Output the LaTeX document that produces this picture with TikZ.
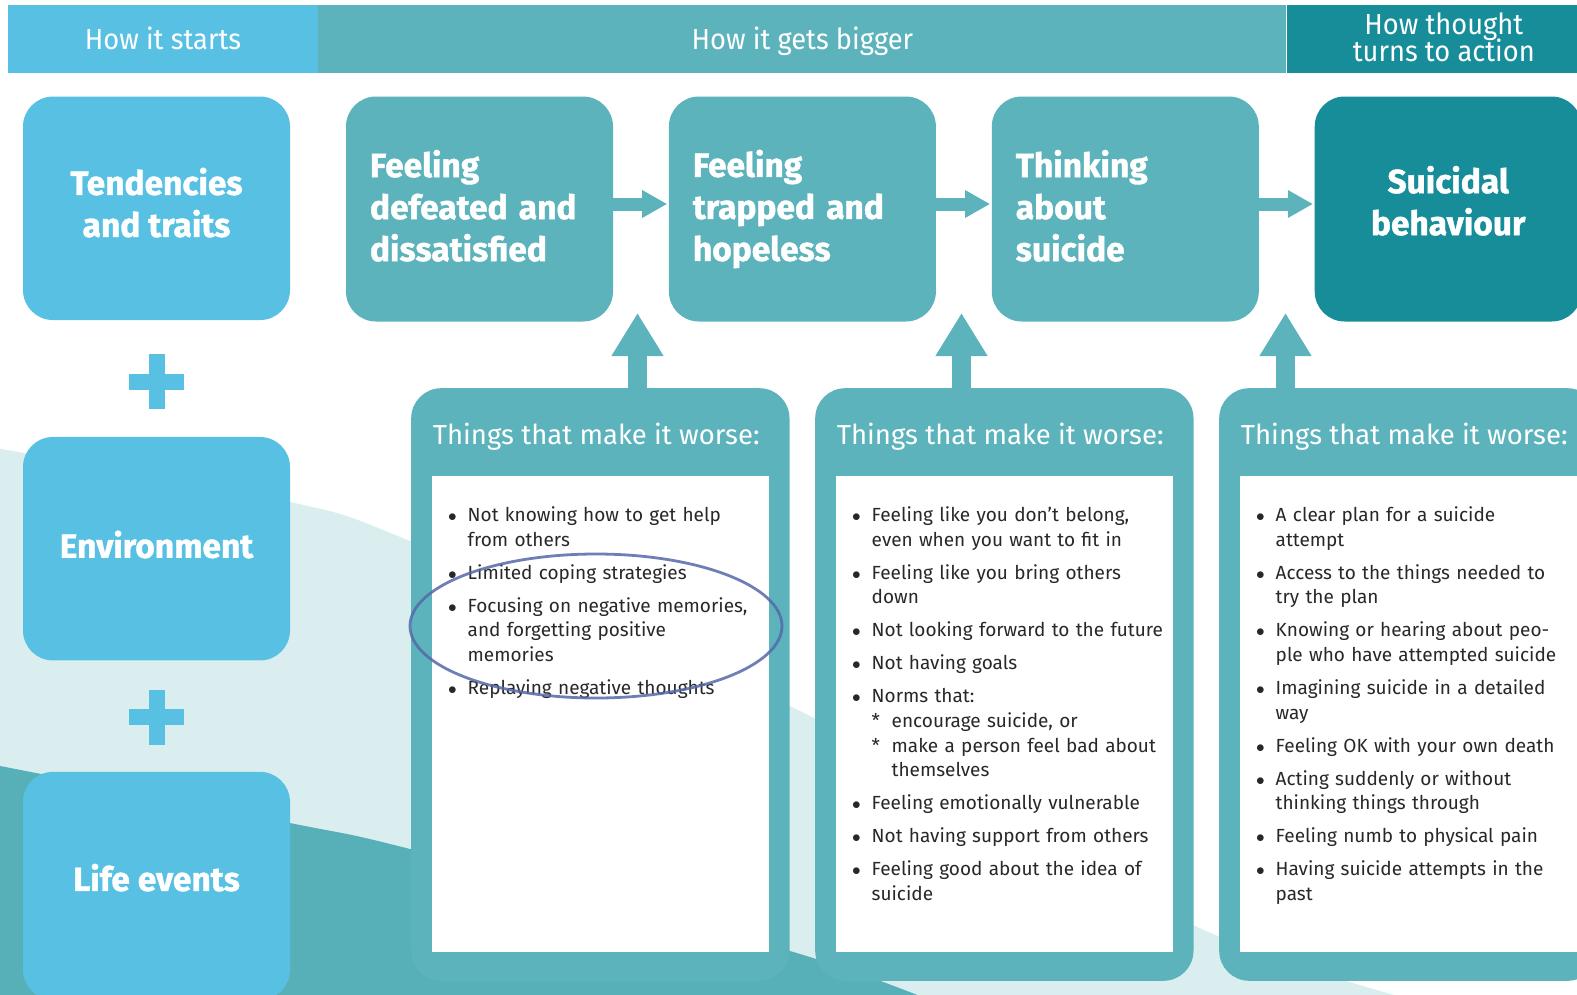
\documentclass[tikz,border=0pt]{standalone}
\usepackage{fontspec}
\setmainfont{Fira Sans}[BoldFeatures={FakeBold=1.2}]
\newfontfamily\condfont[FakeStretch=0.94]{Fira Sans}
\usetikzlibrary{positioning, arrows.meta}

\definecolor{celeste}{RGB}{88,193,227}
\definecolor{turquesa}{RGB}{92,179,188}
\definecolor{petroleo}{RGB}{23,141,154}
\definecolor{ondaclara}{RGB}{218,238,240}
\definecolor{ondaoscura}{RGB}{87,175,183}
\definecolor{trazo}{RGB}{85,105,170}
\definecolor{gristexto}{RGB}{40,40,40}

% viñeta con sangría francesa
\newcommand{\punto}[1]{\hangindent=19.5pt\hangafter=1\noindent\makebox[19.5pt][l]{$\bullet$}#1\par\vspace{8.4pt}}
\newcommand{\subpunto}{\makebox[20pt][l]{*}}
% profundidad extra en la última línea
\newcommand{\bajo}[1]{\rule[-#1]{0pt}{#1}}

\begin{document}
\begin{tikzpicture}[x=1pt, y=-1pt,
    cabecera/.style={minimum height=68.4pt, inner sep=0pt, text=white, font=\condfont\fontsize{29}{26}\selectfont},
    origen/.style={fill=celeste, rounded corners=30pt, minimum width=267pt, minimum height=223.5pt, inner sep=0pt, text=white, align=center, font=\bfseries\fontsize{33.5}{42}\selectfont},
    etapa/.style={fill=turquesa, rounded corners=30pt, minimum height=225pt, inner xsep=24pt, inner ysep=0pt, text width=219pt, align=left, text=white, font=\bfseries\fontsize{33.5}{42}\selectfont},
    panel/.style={fill=turquesa, rounded corners=30pt, minimum width=378.3pt, minimum height=592.6pt, inner sep=0pt},
    hoja/.style={fill=white, minimum width=336.3pt, minimum height=475.7pt, inner sep=0pt},
    titulo/.style={text=white, inner sep=0pt, font=\fontsize{27.5}{30}\selectfont},
    lista/.style={text=gristexto, inner sep=0pt, text width=345pt, font=\fontsize{19}{24.6}\selectfont},
    flechah/.style={draw=turquesa, line width=13pt, shorten >=1.5pt, -{Triangle[width=26pt,length=25pt]}},
    flechav/.style={draw=turquesa, line width=19pt, -{Triangle[width=49pt,length=43pt]}},
    marca/.style={draw=trazo, line width=2.8pt, draw opacity=0.85}
  ]
  \useasboundingbox (0,0) rectangle (1577,994);
  \clip (0,0) rectangle (1577,994);

  % ondas del fondo
  \fill[ondaclara] plot[smooth] coordinates {(-10,447) (290,502) (410,541) (800,711) (1193,925) (1420,1002)} -- (-10,1002) -- cycle;
  \fill[ondaoscura] plot[smooth] coordinates {(-10,764) (290,823) (410,849) (790,951) (935,1002)} -- (-10,1002) -- cycle;

  % cabecera
  \node[cabecera, fill=celeste, minimum width=310pt, text height=20pt, text depth=0pt] (h1) at (163,39.2) {How it starts};
  \node[cabecera, fill=turquesa, minimum width=968pt, text height=20pt, text depth=0pt, right=0pt of h1] (h2) {How it gets bigger};
  \node[cabecera, fill=petroleo, minimum width=314pt, align=center, right=0pt of h2] (h3) {How thought\\[-3pt]turns to action\bajo{4.5pt}};

  % columna de la izquierda
  \node[origen] (o1) at (156.5,208.3) {Tendencies\\and traits\bajo{12pt}};
  \node[origen, below=116.5pt of o1] (o2) {Environment\bajo{9pt}};
  \node[origen, below=111pt of o2, minimum height=228pt] (o3) {Life events\bajo{17pt}};
  \foreach \yy in {381.5,717} {
    \fill[celeste] (148.5,\yy-27.5) rectangle ++(16,55);
    \fill[celeste] (129,\yy-8) rectangle ++(55,16);
  }

  % etapas
  \node[etapa] (fa) at (479.5,209) {Feeling\\defeated and\\dissatisfied\bajo{7pt}};
  \node[etapa, right=55.5pt of fa] (fb) {Feeling\\trapped and\\hopeless\bajo{7pt}};
  \node[etapa, right=55.5pt of fb] (fc) {Thinking\\about\\suicide\bajo{7pt}};
  \node[etapa, right=55.5pt of fc, fill=petroleo, align=center] (fd) {Suicidal\\behaviour\bajo{17pt}};
  \foreach \a/\b in {fa/fb, fb/fc, fc/fd}
    \draw[flechah] ([yshift=5pt]\a.east) -- ([yshift=5pt]\b.west);

  % paneles de abajo
  \foreach \i/\xx/\xf in {1/411/637.5, 2/815/961.5, 3/1219/1285.5} {
    \node[panel, anchor=north west] (p\i) at (\xx,388) {};
    \node[hoja, anchor=north west] (w\i) at (\xx+21,475.7) {};
    \node[titulo, anchor=base west] (t\i) at (\xx+21.7,444) {Things that make it worse:};
    \coordinate (s\i) at (\xf,313);
    \draw[flechav] (s\i |- p\i.north) -- (s\i);
  }

  % listas
  \node[lista, anchor=base west] (l1) at (448,521.7) {%
    \punto{Not knowing how to get help\newline from others}
    \punto{Limited coping strategies}
    \punto{Focusing on negative memories,\newline and forgetting positive\newline memories}
    \punto{Replaying negative thoughts}};
  \node[lista, anchor=base west] (l2) at (852,521.7) {%
    \punto{Feeling like you don’t belong,\newline even when you want to fit in}
    \punto{Feeling like you bring others\newline down}
    \punto{Not looking forward to the future}
    \punto{Not having goals}
    \punto{Norms that:\newline\subpunto encourage suicide, or\newline\subpunto make a person feel bad about\newline\hspace*{20pt}themselves}
    \punto{Feeling emotionally vulnerable}
    \punto{Not having support from others}
    \punto{Feeling good about the idea of\newline suicide}};
  \node[lista, anchor=base west] (l3) at (1256,521.7) {%
    \punto{A clear plan for a suicide\newline attempt}
    \punto{Access to the things needed to\newline try the plan}
    \punto{Knowing or hearing about peo-\newline ple who have attempted suicide}
    \punto{Imagining suicide in a detailed\newline way}
    \punto{Feeling OK with your own death}
    \punto{Acting suddenly or without\newline thinking things through}
    \punto{Feeling numb to physical pain}
    \punto{Having suicide attempts in the\newline past}};

  % elipse sobre la lista
  \draw[marca] (596,626) ellipse [x radius=186, y radius=72];
\end{tikzpicture}
\end{document}
